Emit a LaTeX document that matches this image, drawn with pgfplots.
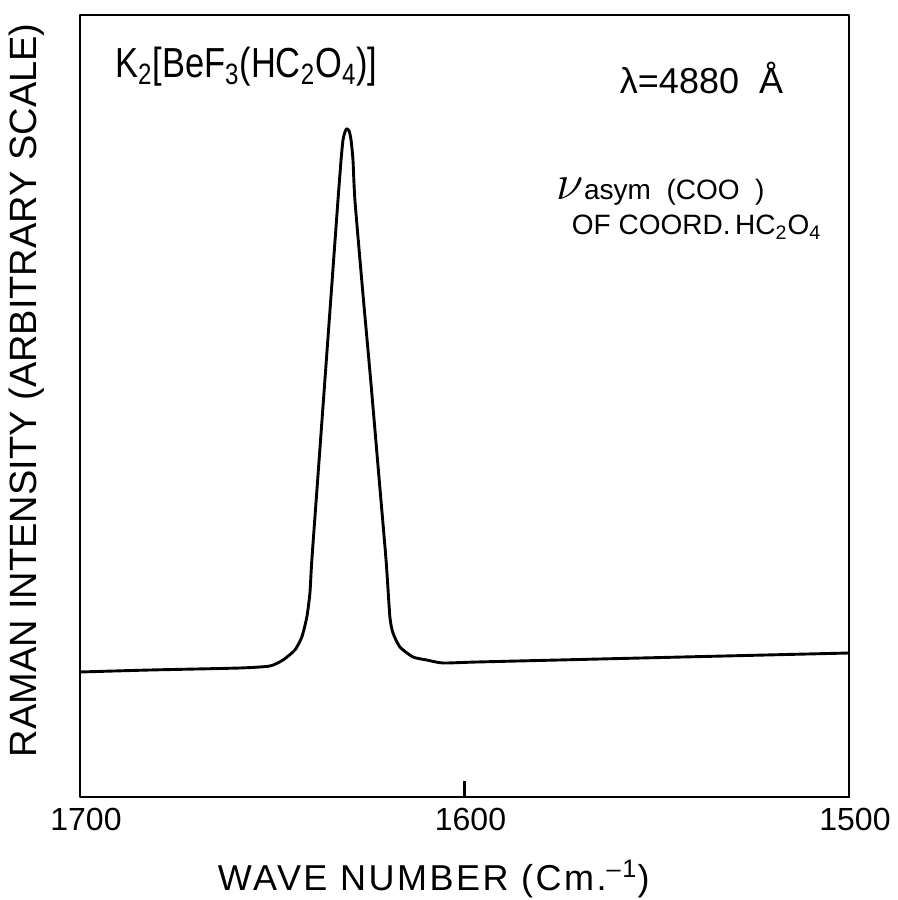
\documentclass[border=0pt]{standalone}
\usepackage{fontspec}
\setmainfont{Liberation Sans}
\newfontfamily\condfont{Liberation Sans}[FakeStretch=0.82]
\newfontfamily\spacedfont{Liberation Sans}[LetterSpace=7]
\usepackage{pgfplots}
\pgfplotsset{compat=1.18}

\begin{document}
\begin{tikzpicture}
\begin{axis}[
  scale only axis, width=384.5pt, height=391pt,
  x dir=reverse, xmin=1500, xmax=1700, ymin=0, ymax=782,
  xtick={1500,1600,1700}, ytick=\empty,
  xtick pos=left, tick align=inside, major tick length=8pt,
  every tick/.style={line width=1.4pt, black},
  xticklabel style={font=\fontsize{16}{16}\selectfont, yshift=-2pt, xshift=3pt},
  /pgf/number format/assume math mode=true,
  /pgf/number format/set thousands separator={},
  xlabel={\spacedfont\fontsize{18}{18}\selectfont WAVE NUMBER (Cm.\textsuperscript{–1})},
  xlabel style={at={(axis description cs:0.46,-0.105)}, anchor=center},
  ylabel={\fontsize{19}{19}\selectfont RAMAN INTENSITY (ARBITRARY SCALE)},
  ylabel style={at={(axis description cs:-0.069,0.52)}, anchor=center},
  clip=false,
]
\draw[line width=1.4pt, line join=round] (rel axis cs:0,0) rectangle (rel axis cs:1,1);
\addplot[black, line width=1.45pt, smooth, tension=0.35] coordinates {
(1700,125) (1681.8,127) (1658.4,129) (1650.6,131) (1647.2,137) (1644.1,147)
(1642.3,160) (1641.0,180) (1640.2,204) (1639.7,237) (1638.0,327) (1636.3,417)
(1634.6,507) (1632.9,597) (1632.1,637) (1631.6,657) (1631.0,666) (1630.6,668)
(1630.0,666) (1629.5,657) (1629.0,637) (1628.5,597) (1626.5,507) (1624.4,417)
(1622.4,327) (1620.4,237) (1619.4,180) (1618.6,164) (1616.8,150) (1613.4,140)
(1609.8,137) (1605.6,134) (1596.7,135) (1564.8,138) (1500,144)
};
\node[anchor=base west, font=\condfont\fontsize{21}{21}\selectfont] at (axis cs:1692.7,719)
  {K\textsubscript{2}[BeF\textsubscript{3}(HC\textsubscript{2}O\textsubscript{4})]};
\node[anchor=base west, font=\fontsize{18}{18}\selectfont] at (axis cs:1561.4,703) {λ=4880\ \ Å};
\node[anchor=base west, font=\fontsize{14}{14}\selectfont] at (axis cs:1577.8,597)
  {{\fontsize{30}{30}\selectfont$\nu$}asym\ \ (COO\ \ )};
\node[anchor=base west, font=\fontsize{14}{14}\selectfont] at (axis cs:1573.9,562)
  {OF COORD.\,HC\textsubscript{2}O\textsubscript{4}};
\end{axis}
\pgfresetboundingbox
\path[use as bounding box] ([shift={(-40pt,-51.5pt)}]current axis.south west)
  rectangle ([shift={(24.5pt,7.5pt)}]current axis.north east);
\end{tikzpicture}
\end{document}
